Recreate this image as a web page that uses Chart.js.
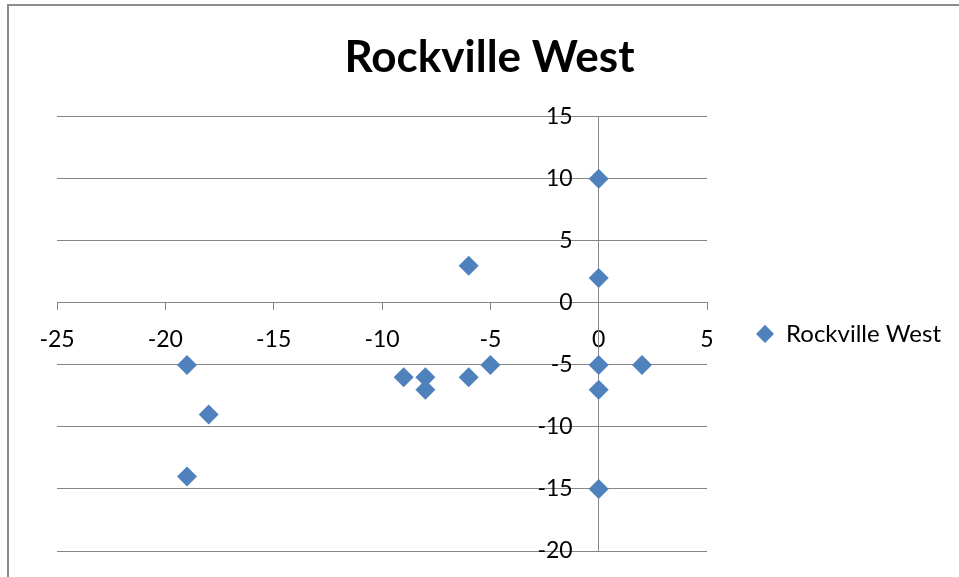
<!DOCTYPE html>
<html>
<head>
<meta charset="utf-8">
<title>Rockville West</title>
<script src="https://cdn.jsdelivr.net/npm/chart.js@4.4.1/dist/chart.umd.min.js"></script>
<style>
  html, body { margin: 0; padding: 0; background: #ffffff; }
  #wrap { width: 959px; height: 577px; position: relative; }
</style>
</head>
<body>
<div id="wrap"><canvas id="chart" width="959" height="577"></canvas></div>
<script>
// Series values
const seriesName = 'Rockville West';
const xValues = [0, 0, -6, -19, -18, -19, -9, -8, -8, -6, -5, 0, 2, 0, 0];
const yValues = [10, 2, 3, -5, -9, -14, -6, -6, -7, -6, -5, -5, -5, -7, -15];

// Axis ranges
const xRange = [-25, 5];
const yRange = [-20, 15];
const tickStep = 5;

const points = xValues.map((x, i) => ({ x: x, y: yValues[i] }));

const FONT = "Lato, 'Liberation Sans', sans-serif";
const AXIS_GRAY = '#868686';
const MARKER_BLUE = '#4F81BD';

// Frame lines along the top and left edges of the canvas
const framePlugin = {
  id: 'frame',
  afterDraw(chart) {
    const ctx = chart.ctx;
    ctx.save();
    ctx.strokeStyle = '#8c8c8c';
    ctx.lineWidth = 2;
    ctx.beginPath();
    ctx.moveTo(8, 577);
    ctx.lineTo(8, 5);
    ctx.lineTo(959, 5);
    ctx.stroke();
    ctx.restore();
  }
};

// Vertical axis crosses at x = 0; keep its labels a little left of the axis line
const yLabelGap = 26;
const yLabelShift = {
  id: 'yLabelShift',
  afterLayout(chart) {
    const s = chart.scales.y;
    const items = s.getLabelItems();
    items.forEach(it => { it.options.translation[0] -= yLabelGap; });
  }
};

new Chart(document.getElementById('chart'), {
  type: 'scatter',
  data: {
    datasets: [{
      label: seriesName,
      data: points,
      pointStyle: 'rectRot',
      pointRadius: 10,
      pointHoverRadius: 10,
      backgroundColor: MARKER_BLUE,
      borderColor: MARKER_BLUE,
      borderWidth: 0
    }]
  },
  options: {
    responsive: false,
    animation: false,
    events: [],
    layout: { padding: { left: 28, right: 8, top: 0, bottom: 26 } },
    scales: {
      x: {
        type: 'linear',
        min: xRange[0],
        max: xRange[1],
        position: { y: 0 },
        border: { display: true, color: AXIS_GRAY, width: 1 },
        grid: { drawOnChartArea: false, drawTicks: true, tickLength: 7, color: AXIS_GRAY },
        ticks: { stepSize: tickStep, padding: 16, color: '#000', font: { family: FONT, size: 23 } }
      },
      y: {
        type: 'linear',
        min: yRange[0],
        max: yRange[1],
        position: { x: 0 },
        border: { display: true, color: AXIS_GRAY, width: 1 },
        grid: { drawOnChartArea: true, drawTicks: true, tickLength: 7, color: AXIS_GRAY, lineWidth: 1 },
        ticks: { stepSize: tickStep, color: '#000', font: { family: FONT, size: 23 } }
      },
      // empty left gutter between the frame and the plot area
      gutter: {
        type: 'linear',
        axis: 'y',
        position: 'left',
        display: true,
        grid: { display: false },
        border: { display: false },
        ticks: { display: false },
        afterFit(scale) { scale.width = 29; }
      }
    },
    plugins: {
      title: {
        display: true,
        text: seriesName,
        color: '#000',
        font: { family: FONT, size: 44, weight: 'bold' },
        padding: { top: 31, bottom: 33 }
      },
      legend: {
        display: true,
        position: 'right',
        fullSize: false,
        maxWidth: 300,
        labels: {
          usePointStyle: true,
          pointStyle: 'rectRot',
          pointStyleWidth: 18,
          boxHeight: 13,
          padding: 49,
          color: '#000',
          font: { family: FONT, size: 24 }
        }
      },
      tooltip: { enabled: false }
    }
  },
  plugins: [yLabelShift, framePlugin]
});
</script>
</body>
</html>
